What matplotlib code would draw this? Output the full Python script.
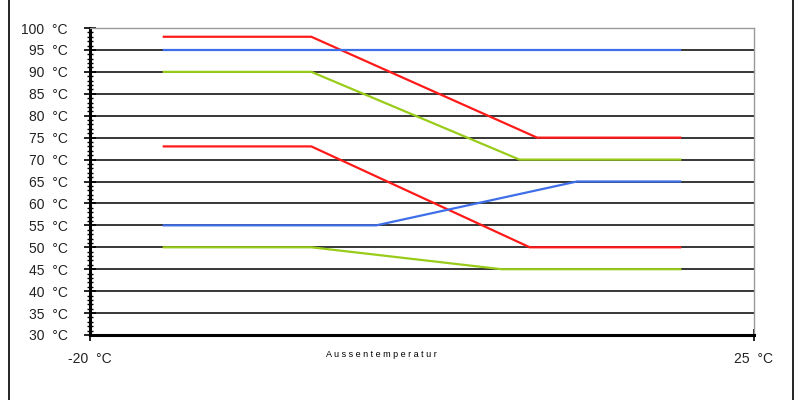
import matplotlib
matplotlib.use("Agg")
import matplotlib.pyplot as plt
from matplotlib.ticker import MultipleLocator, FixedLocator

plt.rcParams['font.family'] = ['Liberation Sans', 'DejaVu Sans']

# Heizkurven: Aussentemperatur (°C) -> Vorlauf-/Ruecklauftemperatur (°C)
red_top_x = [-15, -5, 10.3, 20]
red_top_y = [98, 98, 75, 75]
blue_top_x = [-15, 20]
blue_top_y = [95, 95]
green_top_x = [-15, -5, 9.1, 20]
green_top_y = [90, 90, 70, 70]
red_low_x = [-15, -5, 9.8, 20]
red_low_y = [73, 73, 50, 50]
blue_low_x = [-15, -0.6, 13, 20]
blue_low_y = [55, 55, 65, 65]
green_low_x = [-15, -5, 7.9, 20]
green_low_y = [50, 50, 45, 45]

y_ticks = list(range(30, 101, 5))
x_ticks = [-20, 25]

RED = '#ff1a1a'
BLUE = '#3f6fe8'
GREEN = '#99cc1a'

fig = plt.figure(figsize=(8, 4), dpi=100)
ax = fig.add_axes([90 / 800, 1 - 335 / 400, 664 / 800, 307 / 400])

# horizontal grid lines
for y in y_ticks[1:-1]:
    ax.axhline(y, color='black', lw=1.1, zorder=1)

series = [
    (red_top_x, red_top_y, RED),
    (blue_top_x, blue_top_y, BLUE),
    (green_top_x, green_top_y, GREEN),
    (red_low_x, red_low_y, RED),
    (blue_low_x, blue_low_y, BLUE),
    (green_low_x, green_low_y, GREEN),
]
for xs, ys, c in series:
    ax.plot(xs, ys, color=c, lw=1.6, zorder=3)

ax.set_xlim(-20, 25)
ax.set_ylim(30, 100)

ax.yaxis.set_major_locator(FixedLocator(y_ticks))
ax.yaxis.set_minor_locator(MultipleLocator(1))
ax.set_yticklabels([f'{v}  °C' for v in y_ticks], fontsize=10, color='#222222')
ax.xaxis.set_major_locator(FixedLocator(x_ticks))
ax.set_xticklabels([f'{v}  °C' for v in x_ticks], fontsize=10, color='#222222')

ax.tick_params(axis='y', which='major', direction='inout', length=8, width=1.2, pad=12)
ax.tick_params(axis='y', which='minor', direction='inout', length=5, width=1.0)
ax.tick_params(axis='x', which='major', direction='inout', length=8, width=1.2, pad=8)

for side in ['left', 'bottom']:
    ax.spines[side].set_linewidth(2.2)
    ax.spines[side].set_color('black')
for side in ['top', 'right']:
    ax.spines[side].set_linewidth(1.0)
    ax.spines[side].set_color('#999999')

ax.text(0.4385, -0.065, 'A u s s e n t e m p e r a t u r', transform=ax.transAxes,
        ha='center', va='center', fontsize=6.5)

# outer chart frame
fig.add_artist(plt.Line2D([9 / 800, 9 / 800], [0, 1], color='black', lw=1.2,
                          transform=fig.transFigure))
fig.add_artist(plt.Line2D([793 / 800, 793 / 800], [0, 1], color='black', lw=1.2,
                          transform=fig.transFigure))

fig.savefig('out.png', dpi=100)
